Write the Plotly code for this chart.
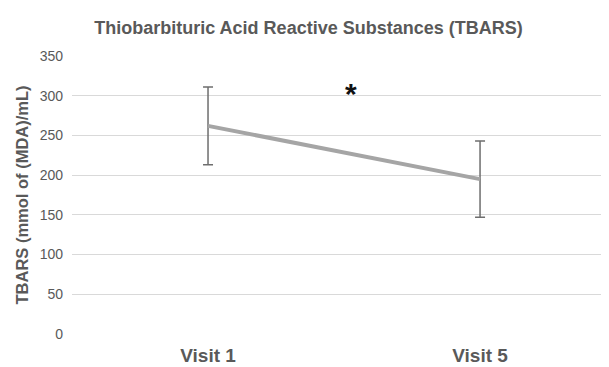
import plotly.graph_objects as go

categories = ["Visit 1", "Visit 5"]
tbars_mean = [262, 195]
tbars_err = [49, 48]
y_ticks = [0, 50, 100, 150, 200, 250, 300, 350]
sig_label = "*"
sig_x = 0.526
sig_y = 307

fig = go.Figure()
fig.add_trace(go.Scatter(
    x=[0, 1], y=tbars_mean, mode="lines",
    line=dict(color="#a5a5a5", width=4),
    error_y=dict(type="data", array=tbars_err, visible=True,
                 color="#6e6e6e", thickness=1.5, width=5),
    showlegend=False, hoverinfo="skip",
))
fig.add_annotation(x=sig_x, y=sig_y, text="<b>%s</b>" % sig_label, showarrow=False,
                   font=dict(size=30, color="#111", family="Liberation Sans"),
                   xref="x", yref="y", yshift=-3)

fig.update_layout(
    width=601, height=359,
    margin=dict(l=64, r=0, t=48, b=33),
    paper_bgcolor="white", plot_bgcolor="white",
    font=dict(family="Liberation Sans, Arial, sans-serif", color="#595959"),
    title=dict(text="<b>Thiobarbituric Acid Reactive Substances (TBARS)</b>",
               x=0.5, xanchor="center", y=0.945, yanchor="middle",
               font=dict(size=18, color="#595959")),
    xaxis=dict(range=[-0.5, 1.474], tickmode="array", tickvals=[0, 1],
               ticktext=["<b>%s</b>" % c for c in categories],
               tickfont=dict(size=19, color="#595959"),
               showgrid=False, zeroline=False, showline=False,
               ticklabelstandoff=8),
    yaxis=dict(range=[0, 350], tickmode="array", tickvals=y_ticks,
               tickfont=dict(size=14, color="#595959"),
               showgrid=True, gridcolor="#d9d9d9", gridwidth=1.3,
               zeroline=False, showline=False, ticklabelstandoff=8,
               title=dict(text="<b>TBARS (mmol of (MDA)/mL)</b>",
                          font=dict(size=16.5, color="#595959"), standoff=6)),
)
fig.write_html("out.html")
